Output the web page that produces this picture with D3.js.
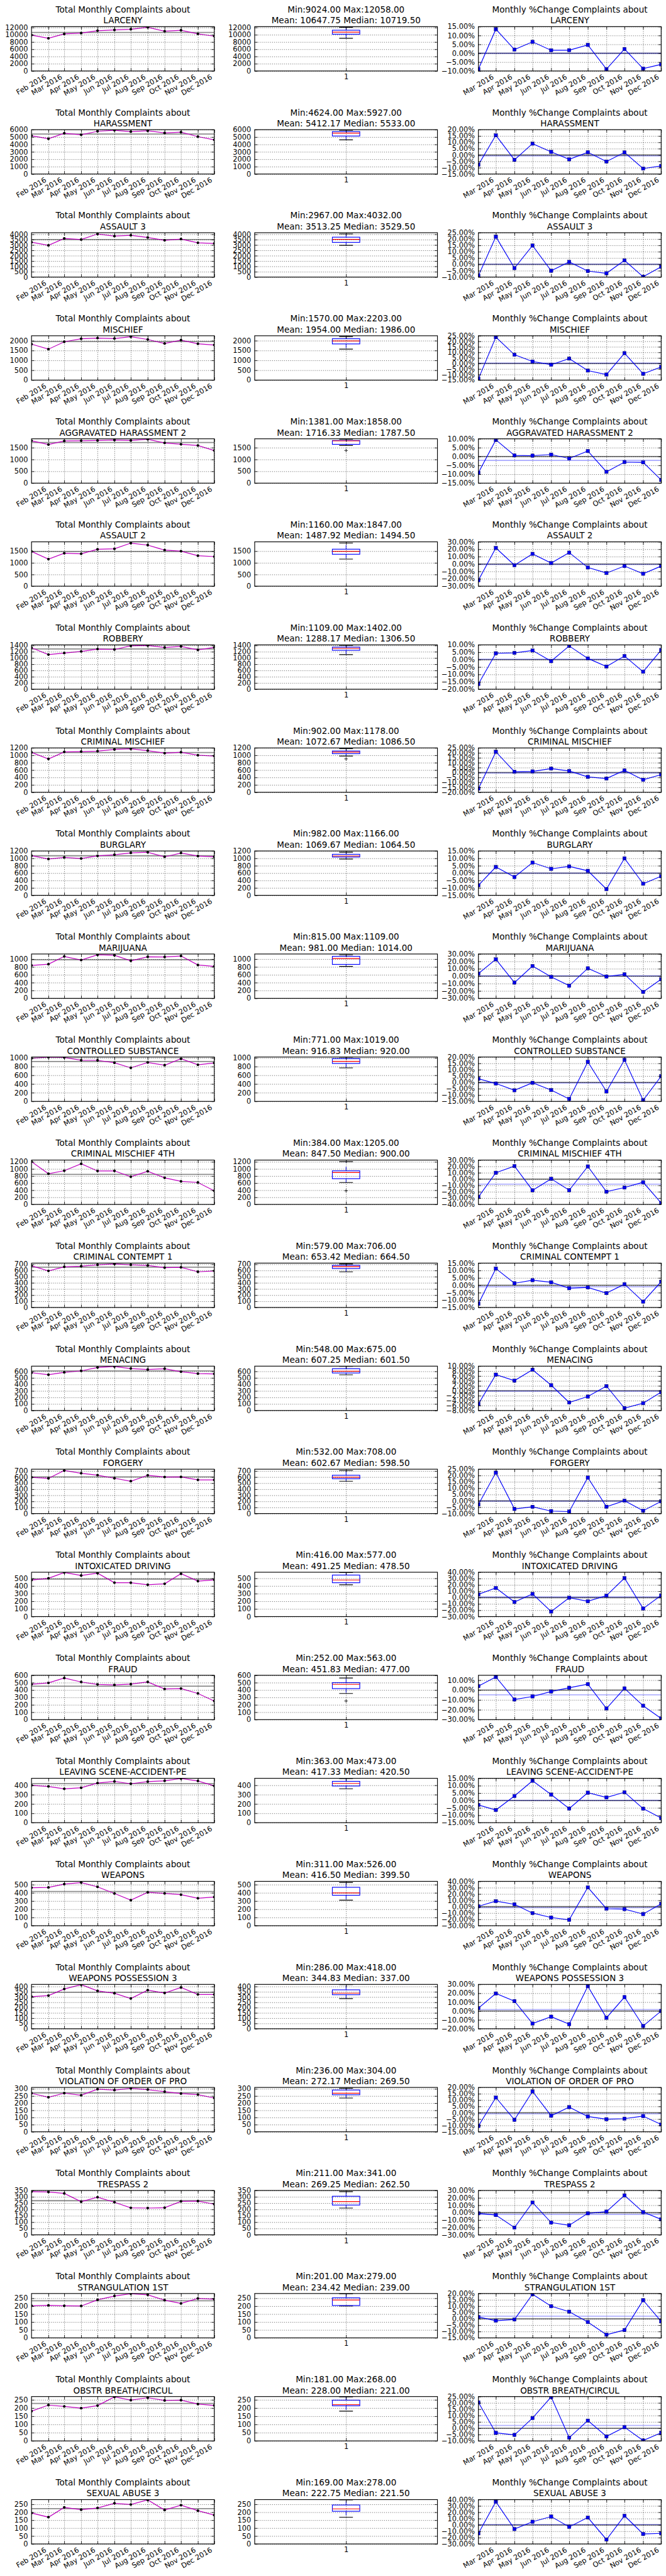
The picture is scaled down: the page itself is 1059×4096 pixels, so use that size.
<!DOCTYPE html>
<html><head><meta charset="utf-8">
<script src="https://cdn.jsdelivr.net/npm/d3@7"></script>
<style>
body{margin:0;background:#fff;}
text{font-family:"DejaVu Sans",sans-serif;fill:#000;}
.grid line{stroke:#000;stroke-width:0.8;stroke-dasharray:1.2,2.6;}
.grid .domain{display:none;}
</style></head>
<body><svg id="chart"></svg>
<script>
// ---------- DATA ----------
const months = ["Jan 2016","Feb 2016","Mar 2016","Apr 2016","May 2016","Jun 2016","Jul 2016","Aug 2016","Sep 2016","Oct 2016","Nov 2016","Dec 2016"];
const categories = ["LARCENY","HARASSMENT","ASSAULT 3","MISCHIEF","AGGRAVATED HARASSMENT 2","ASSAULT 2","ROBBERY","CRIMINAL MISCHIEF","BURGLARY","MARIJUANA","CONTROLLED SUBSTANCE","CRIMINAL MISCHIEF 4TH","CRIMINAL CONTEMPT 1","MENACING","FORGERY","INTOXICATED DRIVING","FRAUD","LEAVING SCENE-ACCIDENT-PE","WEAPONS","WEAPONS POSSESSION 3","VIOLATION OF ORDER OF PRO","TRESPASS 2","STRANGULATION 1ST","OBSTR BREATH/CIRCUL","SEXUAL ABUSE 3"];

const larceny      = [9910, 9024, 10248, 10460, 11133, 11320, 11515, 12058, 10979, 11240, 10265, 9621];
const harassment   = [5170, 4772, 5516, 5305, 5782, 5927, 5725, 5850, 5550, 5665, 5060, 4624];
const assault3     = [3260, 2967, 3616, 3509, 4032, 3830, 3905, 3700, 3440, 3550, 3205, 3145];
const mischief     = [1823, 1570, 1943, 2096, 2134, 2110, 2203, 2062, 1856, 2029, 1840, 1782];
const aggHarass2   = [1793, 1629, 1782, 1793, 1802, 1822, 1802, 1858, 1698, 1645, 1591, 1381];
const assault2     = [1486, 1160, 1412, 1389, 1580, 1600, 1847, 1760, 1545, 1503, 1305, 1268];
const robbery      = [1328, 1109, 1157, 1210, 1285, 1272, 1390, 1402, 1337, 1370, 1258, 1340];
const crimMischief = [1078, 902, 1092, 1101, 1114, 1159, 1178, 1126, 1058, 1081, 1002, 981];
const burglary     = [1070, 982, 1023, 996, 1067, 1098, 1148, 1166, 1040, 1144, 1062, 1040];
const marijuana    = [840, 870, 1068, 975, 1109, 1098, 956, 1058, 1053, 1080, 850, 815];
const controlled   = [991, 1019, 1010, 947, 944, 887, 771, 896, 832, 980, 842, 883];
const crimMisch4   = [1205, 864, 950, 1145, 942, 946, 780, 936, 750, 650, 618, 384];
const crimContempt = [678, 593, 660, 669, 692, 706, 692, 682, 646, 651, 579, 593];
const menacing     = [579, 548, 584, 608, 660, 675, 643, 628, 640, 595, 565, 562];
const forgery      = [596, 579, 708, 663, 632, 581, 532, 630, 601, 602, 555, 553];
const intoxDriving = [477, 501, 577, 537, 568, 443, 442, 416, 429, 561, 464, 480];
const fraud        = [478, 497, 563, 509, 476, 469, 480, 509, 414, 421, 354, 252];
const leavingScene = [400, 388, 363, 374, 424, 441, 417, 439, 448, 473, 447, 394];
const weapons      = [463, 466, 507, 526, 473, 392, 311, 406, 393, 378, 334, 349];
const weaponsPoss3 = [304, 314, 376, 418, 359, 336, 286, 366, 338, 391, 325, 325];
const violationOrd = [269, 241, 270, 255, 298, 291, 304, 295, 280, 267, 260, 236];
const trespass2    = [341, 338, 327, 261, 297, 257, 213, 211, 214, 264, 266, 242];
const strangul1st  = [202, 205, 202, 201, 240, 264, 279, 272, 238, 217, 249, 244];
const obstrBreath  = [181, 218, 210, 199, 215, 268, 248, 263, 246, 248, 224, 216];
const sexAbuse3    = [195, 169, 231, 216, 227, 257, 249, 278, 214, 245, 210, 182];

const series = [larceny, harassment, assault3, mischief, aggHarass2, assault2, robbery, crimMischief, burglary, marijuana, controlled, crimMisch4, crimContempt, menacing, forgery, intoxDriving, fraud, leavingScene, weapons, weaponsPoss3, violationOrd, trespass2, strangul1st, obstrBreath, sexAbuse3];

// y-axis ranges / tick steps
const countAxisMax  = [12250, 6000, 4150, 2250, 1875, 1900, 1420, 1200, 1200, 1130, 1020, 1250, 720, 680, 730, 580, 600, 475, 540, 420, 310, 350, 280, 270, 280];
const countTickStep = [2000, 1000, 500, 500, 500, 500, 200, 200, 200, 200, 200, 200, 100, 100, 100, 100, 100, 100, 100, 50, 50, 50, 50, 50, 50];
const pctAxisMin  = [-10, -15, -10, -15, -15, -30, -20, -20, -15, -30, -15, -40, -15, -8, -10, -30, -30, -15, -30, -20, -15, -30, -15, -10, -30];
const pctAxisMax  = [15, 20, 25, 25, 10, 30, 10, 25, 15, 30, 20, 30, 15, 10, 25, 40, 15, 15, 40, 30, 20, 30, 20, 25, 40];
const pctTickStep = [5, 5, 5, 5, 5, 10, 5, 5, 5, 10, 5, 10, 5, 2, 5, 10, 10, 5, 10, 10, 5, 10, 5, 5, 10];

// ---------- LAYOUT (reference pixels, scaled by viewBox) ----------
const W = 1290, H = 4990;
const rowH = 199.6, plotTop = 51.6, plotH = 85.9, plotW = 354;
const colX = [61, 493.3, 926.7];
const TICK = 5.6, FS_T = 16.5, FS_K = 13.9;

const svg = d3.select("#chart").attr("width", 1059).attr("height", 4096)
  .attr("viewBox", `0 0 ${W} ${H}`);
svg.append("rect").attr("width", W).attr("height", H).attr("fill", "#fff");
const defs = svg.append("defs");

const parseM = d3.timeParse("%b %Y");
const fmtM = d3.timeFormat("%b %Y");
const dates = months.map(parseM);
const f2 = d3.format(".2f");

function panel(row, col) {
  const g = svg.append("g").attr("transform", `translate(${colX[col]},${row * rowH + plotTop})`);
  const id = `clip-${row}-${col}`;
  defs.append("clipPath").attr("id", id).append("rect").attr("width", plotW).attr("height", plotH);
  const data = g.append("g").attr("clip-path", `url(#${id})`);
  return {g, data};
}
function title(g, l1, l2) {
  g.append("text").attr("x", plotW / 2).attr("y", 24 - plotTop).attr("text-anchor", "middle")
    .attr("font-size", FS_T).text(l1);
  g.append("text").attr("x", plotW / 2).attr("y", 45.3 - plotTop).attr("text-anchor", "middle")
    .attr("font-size", FS_T).text(l2);
}
function grid(g, x, y, xVals, yVals) {
  g.append("g").attr("class", "grid").call(d3.axisLeft(y).tickValues(yVals).tickSize(-plotW).tickFormat(""));
  g.append("g").attr("class", "grid").attr("transform", `translate(0,${plotH})`)
    .call(d3.axisBottom(x).tickValues(xVals).tickSize(-plotH).tickFormat(""));
}
function styleAxis(sel) {
  sel.attr("font-size", FS_K).attr("font-family", "DejaVu Sans");
  sel.select(".domain").remove();
  sel.selectAll(".tick line").attr("stroke", "#000").attr("stroke-width", 1);
}
function axes(g, x, y, xVals, xFmt, yVals, yFmt, rotate) {
  g.append("rect").attr("width", plotW).attr("height", plotH).attr("fill", "none")
    .attr("stroke", "#000").attr("stroke-width", 1.4);
  g.append("g").call(d3.axisLeft(y).tickValues(yVals).tickFormat(yFmt).tickSizeInner(-TICK).tickSizeOuter(0).tickPadding(7)).call(styleAxis);
  g.append("g").attr("transform", `translate(${plotW},0)`).call(d3.axisRight(y).tickValues(yVals).tickFormat("").tickSizeInner(-TICK).tickSizeOuter(0)).call(styleAxis);
  g.append("g").call(d3.axisTop(x).tickValues(xVals).tickFormat("").tickSizeInner(-TICK).tickSizeOuter(0)).call(styleAxis);
  const xb = g.append("g").attr("transform", `translate(0,${plotH})`)
    .call(d3.axisBottom(x).tickValues(xVals).tickFormat(xFmt).tickSizeInner(-TICK).tickSizeOuter(0).tickPadding(6)).call(styleAxis);
  if (rotate) {
    xb.selectAll(".tick text").attr("x", 0).attr("y", 0).attr("dy", 0)
      .attr("text-anchor", "end").attr("transform", "translate(-3.5,14.3) rotate(-30)");
  }
}

series.forEach((vals, i) => {
  const name = categories[i];
  const mean = d3.mean(vals), median = d3.median(vals);
  const mn = d3.min(vals), mx = d3.max(vals);
  const yCount = d3.scaleLinear().domain([0, countAxisMax[i]]).range([plotH, 0]);
  const yTicks = d3.range(0, countAxisMax[i] + 1e-9, countTickStep[i]);

  // ---- Left: totals ----
  {
    const {g, data} = panel(i, 0);
    const x = d3.scaleTime().domain([dates[0], dates[11]]).range([0, plotW]);
    const xVals = dates.slice(1);
    grid(g, x, yCount, xVals, yTicks);
    data.append("line").attr("x1", 0).attr("x2", plotW).attr("y1", yCount(mean)).attr("y2", yCount(mean))
      .attr("stroke", "#000").attr("stroke-opacity", 0.45).attr("stroke-width", 2.2);
    data.append("path").datum(vals)
      .attr("d", d3.line().x((d, k) => x(dates[k])).y(d => yCount(d)))
      .attr("fill", "none").attr("stroke", "#bf00bf").attr("stroke-width", 1.5);
    data.selectAll("circle").data(vals).join("circle")
      .attr("cx", (d, k) => x(dates[k])).attr("cy", d => yCount(d)).attr("r", 2.6).attr("fill", "#000");
    axes(g, x, yCount, xVals, fmtM, yTicks, d3.format("d"), true);
    title(g, "Total Monthly Complaints about", name);
  }

  // ---- Middle: boxplot ----
  {
    const {g, data} = panel(i, 1);
    const x = d3.scaleLinear().domain([0.5, 1.5]).range([0, plotW]);
    grid(g, x, yCount, [1], yTicks);
    const s = vals.slice().sort(d3.ascending);
    const q1 = d3.quantile(s, 0.25), q3 = d3.quantile(s, 0.75), iqr = q3 - q1;
    const lo = d3.min(s.filter(v => v >= q1 - 1.5 * iqr));
    const hi = d3.max(s.filter(v => v <= q3 + 1.5 * iqr));
    const fliers = s.filter(v => v < lo || v > hi);
    const cx = x(1), bw = x(1.075) - x(0.925), cw = bw / 2;
    data.append("line").attr("x1", cx).attr("x2", cx).attr("y1", yCount(q3)).attr("y2", yCount(hi))
      .attr("stroke", "#0000ff").attr("stroke-width", 1.2).attr("stroke-dasharray", "8,8");
    data.append("line").attr("x1", cx).attr("x2", cx).attr("y1", yCount(q1)).attr("y2", yCount(lo))
      .attr("stroke", "#0000ff").attr("stroke-width", 1.2).attr("stroke-dasharray", "8,8");
    [lo, hi].forEach(v => data.append("line").attr("x1", cx - cw / 2).attr("x2", cx + cw / 2)
      .attr("y1", yCount(v)).attr("y2", yCount(v)).attr("stroke", "#000").attr("stroke-width", 1.4));
    data.append("rect").attr("x", cx - bw / 2).attr("width", bw).attr("y", yCount(q3))
      .attr("height", yCount(q1) - yCount(q3)).attr("fill", "none").attr("stroke", "#0000ff").attr("stroke-width", 1.4);
    data.append("line").attr("x1", cx - bw / 2).attr("x2", cx + bw / 2).attr("y1", yCount(median)).attr("y2", yCount(median))
      .attr("stroke", "#ff0000").attr("stroke-width", 1.4);
    fliers.forEach(v => {
      data.append("line").attr("x1", cx - 3.5).attr("x2", cx + 3.5).attr("y1", yCount(v)).attr("y2", yCount(v)).attr("stroke", "#000").attr("stroke-width", 1);
      data.append("line").attr("x1", cx).attr("x2", cx).attr("y1", yCount(v) - 3.5).attr("y2", yCount(v) + 3.5).attr("stroke", "#000").attr("stroke-width", 1);
    });
    axes(g, x, yCount, [1], d3.format("d"), yTicks, d3.format("d"), false);
    title(g, `Min:${f2(mn)} Max:${f2(mx)}`, `Mean: ${f2(mean)} Median: ${f2(median)}`);
  }

  // ---- Right: % change ----
  {
    const {g, data} = panel(i, 2);
    const pct = vals.slice(1).map((v, k) => (v - vals[k]) / vals[k] * 100);
    const pDates = dates.slice(1);
    const x = d3.scaleTime().domain([pDates[0], pDates[10]]).range([0, plotW]);
    const y = d3.scaleLinear().domain([pctAxisMin[i], pctAxisMax[i]]).range([plotH, 0]);
    const yT = d3.range(pctAxisMin[i], pctAxisMax[i] + 1e-9, pctTickStep[i]);
    const xVals = dates.slice(2);
    grid(g, x, y, xVals, yT);
    const pm = d3.mean(pct);
    data.append("line").attr("x1", 0).attr("x2", plotW).attr("y1", y(0)).attr("y2", y(0))
      .attr("stroke", "#000").attr("stroke-opacity", 0.55).attr("stroke-width", 2.2);
    data.append("line").attr("x1", 0).attr("x2", plotW).attr("y1", y(pm)).attr("y2", y(pm))
      .attr("stroke", "#0000ff").attr("stroke-opacity", 0.3).attr("stroke-width", 2.2);
    data.append("path").datum(pct)
      .attr("d", d3.line().x((d, k) => x(pDates[k])).y(d => y(d)))
      .attr("fill", "none").attr("stroke", "#0000ff").attr("stroke-width", 1.4);
    data.selectAll("rect.m").data(pct).join("rect").attr("class", "m")
      .attr("x", (d, k) => x(pDates[k]) - 3.3).attr("y", d => y(d) - 3.3).attr("width", 6.6).attr("height", 6.6)
      .attr("fill", "#0000ff").attr("stroke", "#000033").attr("stroke-width", 0.5);
    axes(g, x, y, xVals, fmtM, yT, d => f2(d) + "%", true);
    title(g, "Monthly %Change Complaints about", name);
  }
});
</script></body></html>
